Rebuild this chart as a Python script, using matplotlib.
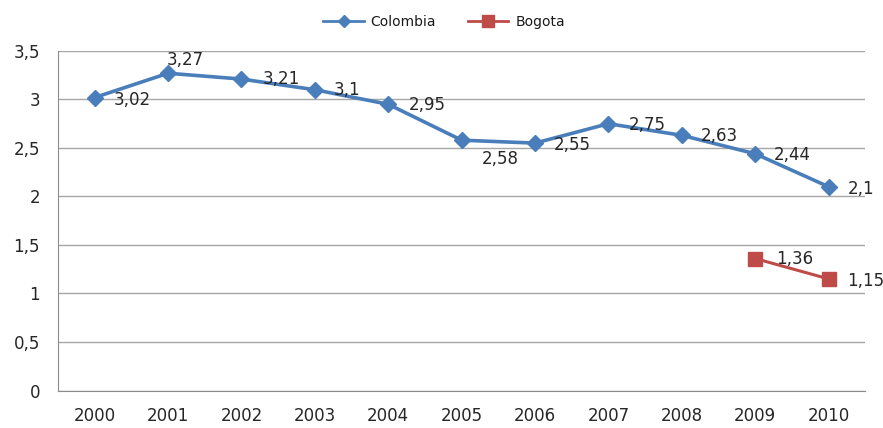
import matplotlib

matplotlib.use("Agg")
import matplotlib.pyplot as plt

years = ["2000", "2001", "2002", "2003", "2004", "2005",
         "2006", "2007", "2008", "2009", "2010"]
colombia = [3.02, 3.27, 3.21, 3.10, 2.95, 2.58, 2.55, 2.75, 2.63, 2.44, 2.10]
bogota_years = ["2009", "2010"]
bogota = [1.36, 1.15]
yticks = [0, 0.5, 1, 1.5, 2, 2.5, 3, 3.5]

# label placement per point: (dx, dy) in pixels and horizontal alignment
col_offsets = [(19, -2, "left"), (17, 13, "center"), (21, 0, "left"),
               (19, 0, "left"), (20, -1, "left"), (39, -19, "center"),
               (19, -2, "left"), (20, -1, "left"), (19, -1, "left"),
               (19, -1, "left"), (19, -2, "left")]
bog_offsets = [(21, 0, "left"), (18, -2, "left")]

BLUE = "#4a7ebb"
RED = "#be4b48"
GRID = "#a6a6a6"
TEXT = "#262626"


def fmt(v):
    s = f"{v:.2f}".rstrip("0").rstrip(".")
    return s.replace(".", ",")


fig = plt.figure(figsize=(8.83, 4.28), dpi=100)
ax = fig.add_axes([0.0657, 0.0876, 0.9143, 0.7934])

x_col = list(range(len(years)))
x_bog = [years.index(y) for y in bogota_years]

ax.plot(x_col, colombia, color=BLUE, lw=2.6, marker="D", ms=8,
        label="Colombia", zorder=3)
ax.plot(x_bog, bogota, color=RED, lw=2.2, marker="s", ms=10,
        label="Bogota", zorder=3)

for xi, v, (dx, dy, ha) in zip(x_col, colombia, col_offsets):
    ax.annotate(fmt(v), (xi, v), xytext=(dx, dy), textcoords="offset pixels",
                ha=ha, va="center", fontsize=12, color=TEXT, zorder=4,
                annotation_clip=False)
for xi, v, (dx, dy, ha) in zip(x_bog, bogota, bog_offsets):
    ax.annotate(fmt(v), (xi, v), xytext=(dx, dy), textcoords="offset pixels",
                ha=ha, va="center", fontsize=12, color=TEXT, zorder=4,
                annotation_clip=False)

ax.set_xlim(-0.5, len(years) - 0.5)
ax.set_ylim(0, 3.5)
ax.set_xticks(x_col)
ax.set_xticklabels(years)
ax.set_yticks(yticks)
ax.set_yticklabels([fmt(t) for t in yticks])
ax.tick_params(length=0, labelsize=12, labelcolor=TEXT)
ax.tick_params(axis="y", pad=13)
ax.tick_params(axis="x", pad=12)

ax.grid(axis="y", color=GRID, lw=1)
ax.set_axisbelow(True)
for side in ["top", "right"]:
    ax.spines[side].set_visible(False)
ax.spines["left"].set_color("#8c8c8c")
ax.spines["bottom"].set_color("#8c8c8c")

leg = fig.legend(loc="center", bbox_to_anchor=(0.503, 0.949), ncol=2,
                 frameon=False, fontsize=10, handlelength=2.9,
                 handletextpad=0.5, columnspacing=2.3, labelcolor="#1a1a1a")
for h, ms in zip(leg.legend_handles, [6, 8]):
    h.set_linewidth(2)
    h.set_markersize(ms)

fig.savefig("out.png", dpi=100)
